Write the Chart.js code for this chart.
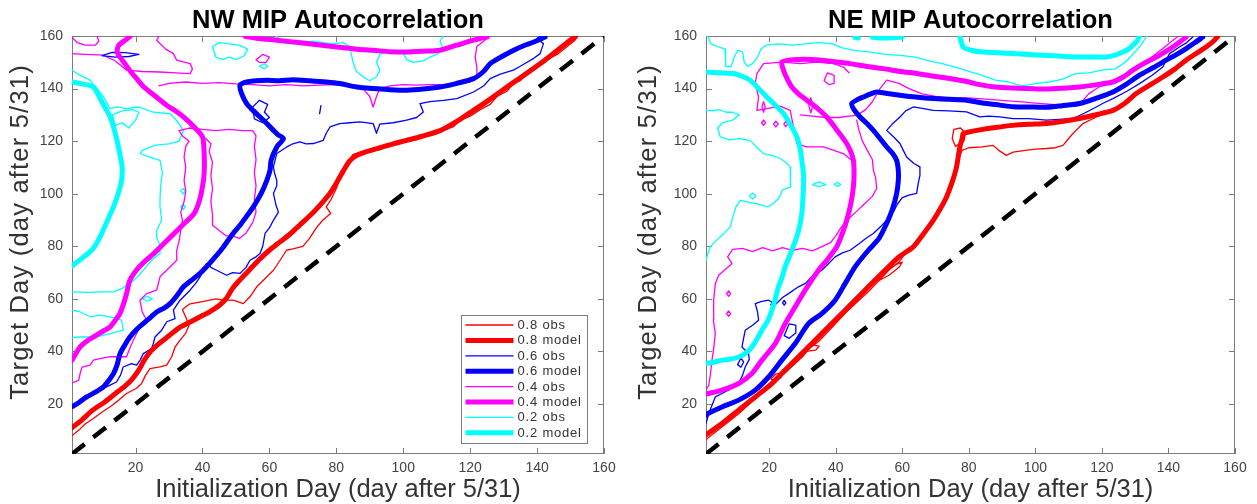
<!DOCTYPE html>
<html>
<head>
<meta charset="utf-8">
<title>MIP Autocorrelation</title>
<script src="https://cdn.jsdelivr.net/npm/chart.js@4/dist/chart.umd.min.js"></script>
<style>
  html, body { margin: 0; padding: 0; background: #fff; }
  body { width: 1257px; height: 504px; position: relative; overflow: hidden; }
  canvas { position: absolute; top: 0; }
  #nwChart { left: 0; }
  #neChart { left: 628px; }
</style>
</head>
<body>
<canvas id="nwChart" width="628" height="504"></canvas>
<canvas id="neChart" width="629" height="504"></canvas>
<script>
// Axis ticks (days after 5/31) and the 1:1 reference line
const dayTicks = [20, 40, 60, 80, 100, 120, 140, 160];
const diagonal = [[1, 1], [160, 160]];

const levels = ['0.8', '0.6', '0.4', '0.2'];
const levelColors = ['#ff0000', '#0000ff', '#ff00ff', '#00ffff'];

// ---------- NW contours: [init day, target day] ----------
const nwModel80 = [[1,11],[4,14],[7,17.5],[11,21],[14,24],[17,27],[19,29.5],[21,33],[22.5,36.5],[24.5,40],[27,43],[30,46],[33,49],[36,51],[39,53],[42,55],[45,57.5],[47,60],[49,64],[51,67],[54,71],[57,75],[60,78.5],[63,81.5],[66,84.5],[69,88],[72,91.5],[75,95.5],[78,100],[80,104],[82,108.5],[84,112.5],[86,114.5],[89,116],[93,117.5],[97,119],[101,120.3],[106,122],[111,124],[116,127.5],[121,131.7],[126,136],[131,140.6],[136,145],[141,149.5],[146,154.5],[151.5,160]];
const nwObs80 = [[1,8],[3,10],[5,12.5],[7.4,14.5],[10,17],[12.4,19],[15,21.5],[17.3,24],[20.3,26],[21.8,27.8],[23,31],[24.3,33.5],[27.3,34.1],[29.3,34.8],[30.8,38],[31.8,41.7],[33.3,44.3],[35,47],[36,50],[35,53],[34,56],[36,58],[40,59],[44,60],[46.2,59.5],[49.2,59.5],[52.2,58.2],[54.2,60.8],[56.2,64.6],[58.2,67.1],[61.2,70.9],[63.2,74.7],[65.1,78.5],[67,79],[70,80],[72,83],[74,87],[76,90],[78.3,92.5],[77,95],[78.5,98],[80,102],[81,106],[83,110.5],[84,113],[85,115],[88,116],[92,117],[96,118],[100,119.5],[104,120.5],[108,122.5],[112,124],[115,125.5],[117,128],[120,129.5],[123,132],[126,134],[128,137],[131,139],[133,142],[135,143],[137,146],[140,149],[143,151],[146,153],[149,156],[151,158],[152,159.5]];

const nwModel60 = [[1,19],[3,20.5],[5.4,22.7],[8,24.5],[10.4,26.5],[12,29],[13.4,31.6],[14.5,35],[15.3,39],[16.8,42.5],[18.3,45.5],[20,48],[22.3,50.6],[24.5,53],[26.3,55],[28.5,56.5],[30.3,58.2],[32.5,61.5],[34.3,64.6],[37.3,67.7],[39.5,70],[41.2,72.2],[43.5,75.5],[45.5,78.5],[47.5,82],[49.2,85],[51.5,88.5],[53.5,92],[55.2,95],[57.5,100],[59.2,105],[60.2,109],[60.5,112.7],[62.2,117.8],[64.2,121],[62.5,122.5],[61.2,124.1],[59,127],[57.2,129.2],[55,131.8],[53.2,134.3],[51.7,138.1],[51.2,141.3],[53.2,142.5],[56,143],[59.2,143.2],[63,143],[67,143.4],[72,143],[77,142.5],[81,141.9],[86,140.6],[91,140],[96,139.6],[101,139.4],[106,139.8],[111,140.6],[116,142],[121,143.8],[124,146.5],[126,149.5],[129.5,152.2],[133,154.6],[136,156.3],[139,157.7],[142.4,159.6]];
const nwObs60 = [[1,18.3],[3,20.5],[4.4,22.7],[6.5,24],[8.4,24.6],[10.5,26],[12.4,27.2],[14.3,28.4],[15.5,31],[16.3,34.1],[18.8,35.4],[20.3,34.8],[21.5,37],[22.3,39.2],[24.8,41.1],[25.3,43],[25.8,45.5],[27.8,48.1],[29.3,51.3],[31.8,52.5],[31.3,55.7],[33.3,59.5],[36.3,63.3],[38,66],[39.3,68.4],[41.2,73.4],[42.5,72],[44.2,70.9],[47.2,69],[49,70],[51.2,69.7],[53,72],[54.2,74.7],[56,76],[57.2,77.3],[58,80],[58.7,84.9],[60,87],[61.2,89.9],[62.7,93],[62,95.5],[61.2,100.1],[62.2,103],[62.2,105.1],[61.5,108],[61.2,110.2],[62.2,115.3],[65.2,117.8],[67,119],[69.1,119.7],[71,119],[73.1,119.1],[76.1,120.3],[77,123],[78.1,125.4],[81,126.7],[84,127],[87.1,127.3],[91,126.7],[92,123],[93,126.5],[97,127],[101,128],[104,129],[106,131.1],[105,134.3],[108,135],[112,135.5],[116,136.2],[121,138.7],[124,141],[126,143.8],[129,145.5],[132.9,147],[135,148.5],[137,150],[139,151.5],[140.9,153.3],[141.9,157.1],[140,159],[141,160]];
const nwObs60Bits = [
  [[10,152.5],[13,153.8],[17,153.7],[21,153],[18,152.2],[14,152],[10,152.5]],
  [[55,133],[57,135.5],[59.5,134],[58.5,131],[60,129],[58,127],[55.5,128.5],[55,133]],
  [[75,130.5],[75.4,133.5]]
];

const nwModel40 = [[1,36.7],[3.4,41.7],[5.5,44],[7.4,45.5],[10,47.5],[12.4,49.4],[14,52],[15.3,54.4],[16.5,58.5],[17.3,62],[18.3,67.1],[20.3,71],[22.5,74],[25.5,77.3],[28,80.5],[30.5,83.6],[34,88],[37.5,92.5],[39,97],[40,102.6],[40.5,108],[40.5,115.3],[40,121.6],[37.5,125.4],[35,128.5],[32.5,131],[29.5,133.5],[27,136],[24.5,138.5],[22.5,140.6],[20.5,143.5],[18.5,146.5],[16.5,150],[14.8,153],[14.5,154.6],[15,156.5],[17,158.5],[18.5,160]];
const nwModel40Top = [[52.7,159.9],[57,159],[62.2,158.4],[70,157.3],[80.1,155.8],[86,155],[91,154.6],[96,154],[101,153.9],[106,154.2],[111,154.6],[116,156.5],[121,158.4],[125,159.6]];
const nwObs40 = [[1,28],[3,29],[3.5,32],[4,34],[6.4,34.8],[7.4,36.7],[10,37.5],[12.4,38],[15,38],[17.3,38],[18.5,42],[20,46],[21.3,49.3],[23.3,51.9],[22,55],[21.3,59.5],[23.3,62],[26.3,63.3],[27.3,68.4],[29.3,70.9],[32.3,74.7],[32.3,78.5],[33,82],[33.5,86],[34,90],[33.5,93],[34.5,97],[35,101],[34.5,105],[35,110],[34.5,114],[35,118],[36,120],[34,122],[33,124],[36,125],[40,124.5],[44,124],[48,124.5],[52,124],[55,124],[56,122],[55.5,118],[56,113],[55.5,108],[56,103],[55.5,98],[56,93],[55,89],[53,85],[51,83],[49,84],[47,84],[45,86],[43,88],[43,92],[42.5,97],[43,102],[42.5,107],[43,112],[42,116],[42.5,119],[41,121]];
const nwObs40Upper = [[27,141],[30,142],[35,142.5],[40,142],[45,142.3],[50,141.8],[55,141.5],[60,141],[65,141.5],[70,141],[75,141.3],[80,141.5],[85,141.3],[88,140],[90,137],[91,133],[92,137],[93,140],[96,141],[100,141.5],[104,141.3],[108,141.5],[112,141.5],[116,142],[120,142.5],[122,144],[122,148],[121.5,152],[122,156],[124,158],[126,160]];
const nwObs40Bits = [
  [[1,153.3],[5,153],[10.4,152.7],[14,150.5],[17.3,147],[22,146.5],[27.3,146.3],[32,146],[36.3,145.7],[37,147.5],[36.3,149.5],[32.3,150.8],[31.3,153.3],[29,155],[26.3,158.4],[27,160]],
  [[1,159.5],[2.5,157.5],[5,156.5],[8,156.5],[9,158],[8.5,160]],
  [[56,151],[58,153],[60,152],[59,150],[57,150],[56,151]]
];

const nwModel20 = [[1,142.5],[4,141.8],[7.4,140.6],[9.5,136],[11,132.5],[12.4,129.2],[13.5,125],[14.5,120],[15.3,115],[16,110],[15.8,105],[14.8,100],[13.4,95],[12,91],[10.8,87.5],[9.9,84.9],[8.5,81.5],[6.9,78.5],[4.5,76],[2.5,74],[1,72.5]];
const nwObs20 = [[1,147],[3.5,145],[6.4,143.2],[8.5,140],[10.4,136.8],[12.4,132.4],[14.5,133],[17.3,132.4],[21,133],[25.3,131],[30.3,130.5],[32.5,127.5],[34.3,124.1],[33,120],[30,119],[26,118.5],[22,116.5],[21.3,115.3],[24,114],[27.3,112.7],[28,108],[27.5,103],[27.3,98],[27.3,95],[27.8,90],[26.3,86],[26.3,83.6],[27.3,80],[27.3,77.3],[25,75],[23,72],[21,69],[19,66.5],[16,64],[13.4,62.7],[10,62.7],[6,62.5],[1,62.7]];
const nwObs20Bits = [
  [[1,55.7],[3.4,55.1],[6.4,53.2],[9.4,53.8],[12.4,53.2],[15.8,51.9],[16.3,48.1],[12.4,46.8],[9.4,45.8],[6.4,45.5],[3.4,45.5],[1,45.3]],
  [[13,130],[14,126],[16,127],[18,125],[20,128],[21,131],[19,132],[16,131.5],[13,130]],
  [[44,152],[46,151],[48,152],[50,151],[52.5,152.5],[53.5,155],[51,156.5],[48,157],[45,157.5],[43,156],[44,152]],
  [[62,160],[64,157.5],[67,157],[70,157.5],[73,158],[76,157.5],[79,157],[82,157.5],[84,156],[84.5,153],[85,150],[86,146.5],[88,144.5],[90,143],[92,144.5],[93,147],[92,150],[93,153],[95,154],[98,154.5],[100,153.5],[101,151],[103,150],[106,150.5],[108,152],[110,153],[112,155],[111,158],[112,160]],
  [[57,148.5],[58.5,149.5],[59.5,148.5],[58.5,147.5],[57,148.5]],
  [[33.5,101],[34.2,102],[34.9,101],[34.2,100],[33.5,101]],
  [[33.5,95],[34.2,96],[34.9,95],[34.2,94],[33.5,95]],
  [[22,60],[23.5,61],[25,60],[23.5,59.2],[22,60]]
];

// ---------- NE contours ----------
const neModel80 = [[1,8.3],[5.8,12.6],[10.8,17.7],[15.8,22.7],[20.8,27.8],[24.8,32.9],[29.8,39.2],[34.8,45.5],[39.8,51.9],[44.8,58.2],[49.8,64.6],[54.8,70.9],[59,76],[63.3,79.8],[66.5,85],[69.3,89.9],[71.5,94.5],[73.3,98.8],[75,104.5],[76.3,110.2],[77.3,117.8],[78,121],[78.3,122.9],[80,123.5],[83.3,124.3],[88,125.2],[93.3,126],[98,126.4],[103.3,126.7],[108,127.5],[113.3,128.6],[118,130],[123.3,131.7],[127,134.5],[130.3,138.1],[134,141],[138.3,144.4],[142,147.5],[145.3,150.8],[148.5,153.5],[151.3,155.8],[153.5,158],[154.8,159.8]];
const neObs80 = [[1,6.5],[3,8.5],[5,10.5],[8,13.5],[11,16.5],[14,20],[17,23.5],[20,27],[22,29],[24,31],[27,34.5],[30,38],[32,41],[35,44],[38,48],[41,52],[44,56],[47,59.5],[50,63],[53,67],[56,71],[59,74],[61,77.5],[64,81],[66,84],[68,87.5],[70,91],[72,95],[73.5,99],[75,103],[75.5,106.5],[76.5,110],[77,114],[78,116.5],[80,117.5],[84,117.8],[87.3,118.4],[89,116.5],[91.3,114.6],[93.3,115.8],[97,116.5],[100,117],[103.3,117.2],[106,117.5],[108.3,118.4],[110,121],[111.3,122.9],[114.3,126.7],[118,129],[122,131],[126,134],[130,137.5],[134,140.5],[138,143.5],[142,147],[146,151],[150,154.5],[153,157.5],[155,160]];
const neObs80Bits = [
  [[20.5,29.5],[22,31.5],[24,31.8],[23.5,30],[21.5,29],[20.5,29.5]],
  [[31,40],[33,42.5],[35,42],[34,40.5],[31,40]],
  [[53,67],[55,70.5],[58,73],[60,74],[59,72],[56,69],[53,67]],
  [[76,118],[75,121],[75.5,124.5],[77.5,125],[79,123],[78.5,120],[76,118]]
];

const neModel60 = [[1,15.8],[1.6,16.4],[5.8,18.9],[10.8,21.5],[15.8,25.3],[19.8,30.3],[23.8,36.7],[27.8,43],[31.8,50.6],[35.8,54.4],[39.8,59.5],[42.8,65.8],[45.8,72.2],[49.8,78.5],[53,83],[55.3,88.7],[57,94],[58.3,100.1],[58.8,105],[58.8,108.9],[58.3,112.7],[57,115.5],[55.3,117.8],[53.3,121],[51.3,124.1],[49.3,126.8],[47.3,129.2],[45.5,132],[44.8,134.3],[46.5,135.8],[48.3,136.8],[50.5,138],[52.3,138.7],[55,138.2],[59.3,137.5],[64,136.8],[69.3,136.2],[74,135.9],[79.3,135.6],[84,134.5],[89.3,133.7],[93.3,133.1],[98,133],[103.3,132.9],[108,133.5],[113.3,134.3],[118,136.2],[123.3,138.7],[127.5,141.8],[131.3,145.1],[135.5,148],[139.3,150.8],[142.5,153],[145.3,155.2],[148,157.5],[150.3,159.6]];
const neObs60 = [[1,12.6],[2,17],[3.8,22.7],[5.8,24],[8,25.5],[10.8,27.8],[12,31],[12.8,34.1],[14,37],[13.8,39.2],[11.8,41.7],[12.3,45],[12.8,48.1],[15,50],[16.8,51.9],[16.5,55],[15.8,58.2],[17.5,59],[19.8,59.5],[22,58],[24,60.5],[25.8,62],[28.8,64.6],[31,66],[32.8,68.4],[35.8,70.9],[37.8,73.4],[39.8,76],[42,77.5],[44.3,78.5],[47,81],[49,83],[51.3,84.9],[53.5,87.5],[55.3,89.9],[57.3,93],[58.5,96],[60,98.5],[62,99.5],[64.3,100.1],[64.8,104],[65.3,107],[65.3,110.2],[63.5,111.5],[61.3,114],[60.3,116.5],[59.3,119.1],[57.5,121.5],[55.3,124.1],[57,126.5],[59.3,129.2],[61,131.5],[63.3,133],[66,132.5],[69.3,131.7],[74,131.5],[79.3,131.1],[83.3,129.2],[86,129.5],[89.3,129.2],[93.3,128.6],[98,128.6],[103.3,128],[107,128.3],[111.3,128.6],[115,130.8],[118.3,133],[120.5,134.5],[123.3,136.2],[127.5,139],[131.3,141.9],[135,145],[138.3,148.2],[140.3,153.3],[143.3,155.8],[145.5,157.5],[147.3,159.6]];
const neObs60Bits = [
  [[24.5,46],[26,50.5],[28,50],[28,47],[26,45],[24.5,46]],
  [[20.5,57.8],[21,58.7],[21.5,57.8],[21,56.9],[20.5,57.8]],
  [[24,58.5],[24.5,59.4],[25,58.5],[24.5,57.6],[24,58.5]],
  [[10.5,35],[11.5,37.5],[12.3,36],[11.5,34],[10.5,35]]
];

const neModel40 = [[1,23.8],[5.8,25.3],[10.8,27.8],[14.8,31.6],[17.8,36.7],[21.8,43],[24.8,50.6],[27.8,57],[30.8,63.3],[34.8,70.9],[37.5,75],[40.3,79.8],[42,85],[43.3,89.9],[44.5,96],[45.3,102.6],[45.5,108],[45.3,112.7],[44.5,116],[43.3,119.1],[40.5,124],[37.3,129.2],[34.5,132.5],[31.3,135.6],[28.8,138],[26.8,140.6],[25.3,144],[24.3,147],[23.8,150.1],[27.3,151],[30.5,151.2],[34.3,151],[39,150.3],[44.3,149.5],[49,148.5],[54.3,147.6],[59,146.6],[64.3,145.7],[69,144.8],[74.3,143.8],[79,142.8],[83.3,141.5],[88,140.6],[93.3,140.2],[98,140],[103.3,139.8],[108,140.1],[113.3,140.6],[118,141.4],[123.3,142.5],[126.5,144.5],[129.3,147],[132.5,149.5],[136.3,152],[139,154],[141.3,155.8],[143.5,157.8],[145.3,159.6]];
const neObs40 = [[1,25.5],[1.8,27],[2.3,31],[2.8,36.7],[3.3,41],[3.8,46.8],[3.2,52],[3.3,59.5],[3.8,65.8],[4.8,69],[6.5,70.9],[8.8,73.4],[7.5,76],[9,78.8],[12,79.2],[15,78],[18,79.5],[21,78.3],[24,79.5],[27,78.5],[30,79.2],[33,78.3],[36,80],[38.5,81.5],[40,84],[41.5,87],[43.5,90],[46,93],[48.5,96],[51,99],[52.3,102],[52,106],[51.3,109],[51,113],[49.5,116.5],[48,120],[47,124],[46.3,128]];
const neObs40Upper = [[29.3,130],[33,129.5],[37,129],[41,129],[44,129.5],[46.3,129.8],[49,132],[51,135],[53.3,140],[55.3,143.2],[59,142],[62,140],[66,138],[70,137],[75,136.5],[80,136.5],[85,136],[90,135.5],[95,135],[100,134.5],[105,134],[109,133.5],[112,133.2],[114,135],[116,138],[119,140.5],[122,142],[126,144],[130,147.5],[134,151],[138,155],[141,158],[143,160]];
const neObs40Left = [[44,146],[42.3,148.2],[39.3,149.5],[34.3,150.1],[29.3,149.5],[23.8,150.1],[18.3,149.5],[16.3,145.7],[15.8,141.9],[16.8,136.8],[16.3,131.7],[19.3,132.4],[23.3,133.3],[26.3,131.7],[27.3,125.4],[28.3,119.1],[31.3,117.8],[36.3,117.8],[42.3,115.3],[44.5,113]];
const neObs40Bits = [
  [[17.7,127],[18.3,128],[18.9,127],[18.3,126],[17.7,127]],
  [[21.3,126.5],[22,127.6],[22.7,126.5],[22,125.4],[21.3,126.5]],
  [[24.4,126.5],[25,127.5],[25.6,126.5],[25,125.5],[24.4,126.5]],
  [[31.9,133.5],[32.5,136.5],[33.1,133.5],[32.5,130.8],[31.9,133.5]],
  [[17.8,133],[18.3,135],[18.8,133],[18.3,131],[17.8,133]],
  [[36.5,143],[37.5,146],[39.5,145],[39.5,142],[38,141.5],[36.5,143]],
  [[7.2,62],[7.8,63],[8.4,62],[7.8,61],[7.2,62]],
  [[7.2,54.4],[7.8,55.4],[8.4,54.4],[7.8,53.4],[7.2,54.4]]
];

const neModel20 = [[1,146.3],[5,146],[9.3,145.7],[12,144.6],[14.3,143.2],[16.8,140],[19.3,136.8],[21.8,133.7],[24.3,130.5],[26.5,126],[28.3,121.6],[29.3,117],[29.8,112.7],[30.3,107.5],[30.3,102.6],[30.1,97.5],[29.8,92.5],[29.2,88],[28.3,83.6],[26.8,78.5],[24.8,72.2],[23.8,68],[22.8,64.6],[21.8,60],[20.8,55.7],[19.5,51.5],[17.8,48.1],[16.3,44.7],[14.8,41.7],[12.8,39.2],[10.8,37.9],[8,37],[5.8,36.7],[3.5,36],[1,35.4]];
const neModel20Top = [[77.3,159.8],[78.3,155.8],[81,154.5],[84.3,153.9],[89.3,153.6],[93.3,153.3],[98,153],[103.3,152.6],[108,152.3],[113.3,152],[118,152],[121.3,152],[124,152.7],[126.3,153.9],[128,155],[129.3,156.5],[130.5,158],[131.3,159.8]];
const neModel20Bits = [
  [[45.8,159.4],[46.8,159.2]],
  [[51,159.5],[54,159.2],[57,159.3],[60,159.6]]
];
const neObs20 = [[1.5,160],[2.5,157],[4.5,156],[6.8,155],[6.8,151],[7,148.5],[8.5,148.3],[9.5,152],[10.5,154.5],[12,154],[12.5,150],[13.5,148.5],[15,149.5],[16.5,152],[17.5,155],[19,156.5],[23,157],[27,156.5],[31,157],[35,157.5],[39,157],[42,155.5],[45,154.6],[50,154],[55,153],[60,152.5],[64,152],[68,150.5],[72,149.5],[76,148.2],[80,146.5],[84,145],[88,143.2],[92,142.5],[96,141],[100,141.9],[104,142.5],[108,143.5],[112,145.7],[116,146],[120,147],[124,147.5],[127,150],[130,154],[132,157],[133.5,160]];
const neObs20Low = [[1,131.7],[3,131.5],[5,132],[7,131],[9,131],[11,130],[9,128],[6,127],[4.5,125],[5.3,121.6],[8,120.5],[11,121],[14.3,120.3],[16,118],[18.3,115.3],[21,114.5],[23.3,113.4],[25,112],[26.3,110.2],[26.5,106],[26.3,102.6],[24,101.5],[23,98.5],[21,96],[19.3,95],[17,96],[15.3,96.3],[13,97],[11.3,97.5],[10,95],[9,91],[8.3,87.4],[6.5,85],[5.3,83.6],[3.5,81.5],[2.3,79.8],[1.5,77],[1,74.7]];
const neObs20Bits = [
  [[33,103.5],[35,104.5],[37,103.5],[35,102.7],[33,103.5]],
  [[39.5,103.5],[40.5,104.4],[41.5,103.5],[40.5,102.7],[39.5,103.5]],
  [[14,99],[15,100.3],[16,99],[15,98],[14,99]]
];

const FONT = "'Liberation Sans', Arial, Helvetica, sans-serif";
const MODEL_W = 5;
const OBS_W = 1.3;

function line(points, color, width, extra) {
  return Object.assign({
    data: points.map(([x, y]) => ({ x, y })),
    borderColor: color,
    backgroundColor: color,
    borderWidth: width,
    showLine: true,
    fill: false,
    pointRadius: 0,
    pointHoverRadius: 0,
    borderJoinStyle: 'round',
    borderCapStyle: 'round',
    tension: 0
  }, extra || {});
}
const model = (pts, i) => line(pts, levelColors[i], MODEL_W, { tension: 0.25 });
const obs = (pts, i) => line(pts, levelColors[i], OBS_W);

// frame with inward ticks, titles and the line-style key
const matlabFrame = {
  id: 'matlabFrame',
  beforeDatasetsDraw(chart) {
    const { ctx, chartArea: a, scales: { x, y } } = chart;
    ctx.save();
    ctx.strokeStyle = '#7d7d7d';
    ctx.lineWidth = 1;
    ctx.strokeRect(a.left + 0.5, a.top + 0.5, a.width - 1, a.height - 1);
    ctx.beginPath();
    dayTicks.forEach(v => {
      const px = Math.round(x.getPixelForValue(v)) + 0.5;
      ctx.moveTo(px, a.bottom); ctx.lineTo(px, a.bottom - 6);
      ctx.moveTo(px, a.top); ctx.lineTo(px, a.top + 6);
      const py = Math.round(y.getPixelForValue(v)) + 0.5;
      ctx.moveTo(a.left, py); ctx.lineTo(a.left + 6, py);
      ctx.moveTo(a.right, py); ctx.lineTo(a.right - 6, py);
    });
    ctx.stroke();
    ctx.restore();
  },
  afterDraw(chart, args, opts) {
    const { ctx, chartArea: a } = chart;
    const cx = (a.left + a.right) / 2;
    ctx.save();
    ctx.fillStyle = '#000';
    ctx.textAlign = 'center';
    ctx.textBaseline = 'alphabetic';
    ctx.font = 'bold 25.5px ' + FONT;
    ctx.fillText(opts.title, cx, 28);

    ctx.fillStyle = '#333';
    ctx.font = '25.5px ' + FONT;
    ctx.fillText('Initialization Day (day after 5/31)', cx, 497);

    ctx.save();
    ctx.translate(28, 232);
    ctx.rotate(-Math.PI / 2);
    ctx.letterSpacing = '1.2px';
    ctx.fillText('Target Day (day after 5/31)', 0, 0);
    ctx.restore();

    if (opts.legend) {
      const w = 126, h = 128;
      const x0 = a.right - 17 - w, y0 = a.bottom - 11 - h;
      ctx.fillStyle = '#fff';
      ctx.fillRect(x0, y0, w, h);
      ctx.strokeStyle = '#7d7d7d';
      ctx.lineWidth = 1;
      ctx.strokeRect(x0 + 0.5, y0 + 0.5, w, h);
      ctx.font = '13px ' + FONT;
      ctx.letterSpacing = '0.8px';
      ctx.textAlign = 'left';
      ctx.textBaseline = 'middle';
      let row = 0;
      levels.forEach((lv, i) => {
        [['obs', OBS_W], ['model', MODEL_W]].forEach(([kind, lw]) => {
          const ry = y0 + 10 + row * 15.4;
          ctx.strokeStyle = levelColors[i];
          ctx.lineWidth = lw;
          ctx.lineCap = 'butt';
          ctx.beginPath();
          ctx.moveTo(x0 + 4.5, ry);
          ctx.lineTo(x0 + 52.5, ry);
          ctx.stroke();
          ctx.fillStyle = '#333';
          ctx.fillText(lv + ' ' + kind, x0 + 56.5, ry + 0.5);
          row++;
        });
      });
    }
    ctx.restore();
  }
};

function makeChart(id, title, datasets, yWidth, padRight, legend) {
  return new Chart(document.getElementById(id), {
    type: 'scatter',
    data: { datasets },
    plugins: [matlabFrame],
    options: {
      responsive: false,
      animation: false,
      events: [],
      layout: { padding: { top: 36, right: padRight, bottom: 0, left: 0 } },
      plugins: {
        legend: { display: false },
        tooltip: { enabled: false },
        matlabFrame: { title, legend }
      },
      scales: {
        x: {
          type: 'linear', min: 1, max: 160,
          afterBuildTicks: s => { s.ticks = dayTicks.map(v => ({ value: v })); },
          afterFit: s => { s.height = 50; },
          grid: { display: false, drawTicks: false },
          border: { display: false },
          ticks: { color: '#444', font: { family: FONT, size: 14 }, padding: 6, autoSkip: false, maxRotation: 0 }
        },
        y: {
          type: 'linear', min: 1, max: 160,
          afterBuildTicks: s => { s.ticks = dayTicks.map(v => ({ value: v })); },
          afterFit: s => { s.width = yWidth; },
          grid: { display: false, drawTicks: false },
          border: { display: false },
          ticks: { color: '#444', font: { family: FONT, size: 14 }, padding: 9, autoSkip: false }
        }
      }
    }
  });
}

const dashed = line(diagonal, '#000', 4.5, { borderDash: [16, 11], borderCapStyle: 'butt' });

// earlier datasets are painted on top
const nwSets = [
  dashed,
  model(nwModel80, 0), model(nwModel60, 1), model(nwModel40, 2), model(nwModel40Top, 2), model(nwModel20, 3),
  obs(nwObs80, 0), obs(nwObs60, 1), ...nwObs60Bits.map(p => obs(p, 1)),
  obs(nwObs40, 2), obs(nwObs40Upper, 2), ...nwObs40Bits.map(p => obs(p, 2)),
  obs(nwObs20, 3), ...nwObs20Bits.map(p => obs(p, 3))
];

const neSets = [
  Object.assign({}, dashed, { data: diagonal.map(([x, y]) => ({ x, y })) }),
  model(neModel80, 0), model(neModel60, 1), model(neModel40, 2), model(neModel20, 3), model(neModel20Top, 3),
  ...neModel20Bits.map(p => model(p, 3)),
  obs(neObs80, 0), ...neObs80Bits.map(p => obs(p, 0)),
  obs(neObs60, 1), ...neObs60Bits.map(p => obs(p, 1)),
  obs(neObs40, 2), obs(neObs40Upper, 2), obs(neObs40Left, 2), ...neObs40Bits.map(p => obs(p, 2)),
  obs(neObs20, 3), obs(neObs20Low, 3), ...neObs20Bits.map(p => obs(p, 3))
];

makeChart('nwChart', 'NW MIP Autocorrelation', nwSets, 72, 24, true);
makeChart('neChart', 'NE MIP Autocorrelation', neSets, 78, 22, false);
</script>
</body>
</html>
